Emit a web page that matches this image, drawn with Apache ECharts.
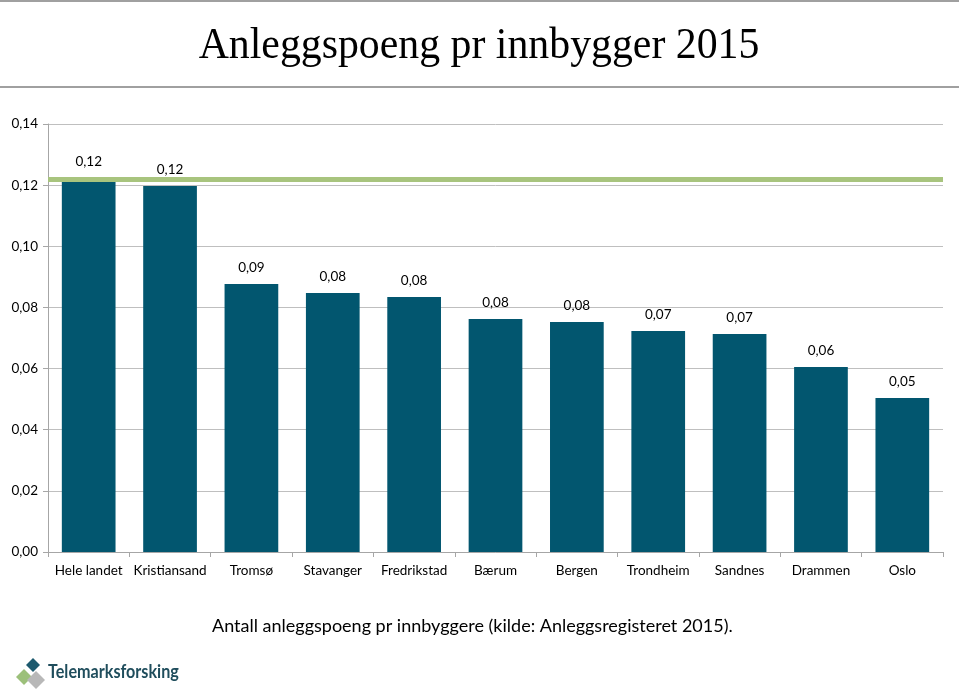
<!DOCTYPE html>
<html><head><meta charset="utf-8">
<script src="https://cdn.jsdelivr.net/npm/echarts@6/dist/echarts.min.js"></script>
<style>html,body{margin:0;padding:0;background:#fff}#c{width:959px;height:691px}</style>
</head><body><div id="c"></div>
<script>
const categories = ['Hele landet','Kristiansand','Tromsø','Stavanger','Fredrikstad','Bærum','Bergen','Trondheim','Sandnes','Drammen','Oslo'];
const values = [0.1223,0.1197,0.0877,0.0847,0.0834,0.0762,0.0752,0.0723,0.0713,0.0605,0.0504];
const nationalLevel = 0.1220;
const yTicks = [0,0.02,0.04,0.06,0.08,0.10,0.12,0.14];
const fmt = v => v.toFixed(2).replace('.', ',');
const chart = echarts.init(document.getElementById('c'));
const font = 'Lato, "Open Sans", sans-serif';
chart.setOption({
  animation:false,
  backgroundColor:'#fff',
  grid:{left:48,right:16,top:124,bottom:139},
  xAxis:{type:'category',data:categories,
    axisLine:{lineStyle:{color:'#a6a6a6'}},
    axisTick:{show:true,length:5,lineStyle:{color:'#a6a6a6'}},
    axisLabel:{color:'#000',fontFamily:font,fontSize:13.5,margin:12,interval:0}},
  yAxis:{type:'value',min:0,max:0.14,interval:0.02,
    axisLine:{show:true,lineStyle:{color:'#a6a6a6'}},
    axisTick:{show:true,length:5,lineStyle:{color:'#a6a6a6'}},
    splitLine:{lineStyle:{color:'#bfbfbf'}},
    axisLabel:{color:'#000',fontFamily:font,fontSize:13.5,margin:10,formatter:v=>fmt(v)}},
  series:[{type:'bar',data:values,barCategoryGap:'34%',
    itemStyle:{color:'#02566f'},
    label:{show:true,position:'top',distance:9,color:'#000',fontFamily:font,fontSize:13.5,formatter:p=>fmt(p.value)},
    markLine:{silent:true,symbol:'none',precision:4,label:{show:false},
      lineStyle:{color:'#a8c47e',width:5,type:'solid'},
      data:[{yAxis:nationalLevel}]}}],
  graphic:[
    {type:'rect',shape:{x:0,y:0,width:959,height:2},style:{fill:'#a0a0a0'}},
    {type:'rect',shape:{x:0,y:86,width:959,height:2},style:{fill:'#a0a0a0'}},
    {type:'text',x:479,y:46,scaleX:0.95,style:{text:'Anleggspoeng pr innbygger 2015',textAlign:'center',textVerticalAlign:'middle',font:'44px "Liberation Serif", "DejaVu Serif", serif',fill:'#000'}},
    {type:'text',x:212,y:617,style:{text:'Antall anleggspoeng pr innbyggere (kilde: Anleggsregisteret 2015).',font:'18px Lato, "Open Sans", sans-serif',fill:'#000'}},
    {type:'polygon',shape:{points:[[26,665],[33,658],[40,665],[33,672]]},style:{fill:'#1d5a6e'}},
    {type:'polygon',shape:{points:[[16,677],[24,669],[32,677],[24,685]]},style:{fill:'#9cc07a'}},
    {type:'polygon',shape:{points:[[27,680],[36,671],[45,680],[36,689]]},style:{fill:'#b8b8b8'}},
    {type:'text',x:48,y:672,scaleX:0.85,style:{text:'Telemarksforsking',textVerticalAlign:'middle',font:'bold 19px Lato, "Open Sans", sans-serif',fill:'#1f4d5c'}}
  ]
});
</script></body></html>
